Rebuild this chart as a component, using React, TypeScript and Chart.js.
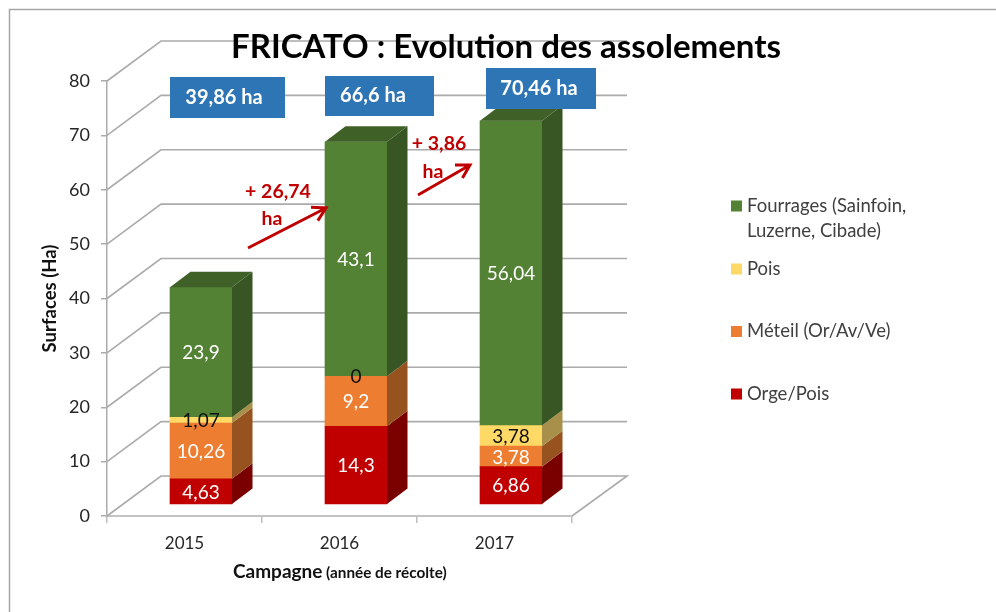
import React, { useEffect, useRef } from "react";
import { Chart, registerables } from "chart.js";

Chart.register(...registerables);

const years = [2015, 2016, 2017];
const orgePois = [4.63, 14.3, 6.86];
const meteil = [10.26, 9.2, 3.78];
const pois = [1.07, 0, 3.78];
const fourrages = [23.9, 43.1, 56.04];
const orgeLabel = "Orge/Pois";
const meteilLabel = "Méteil (Or/Av/Ve)";
const poisLabel = "Pois";
const fourragesLabel = ["Fourrages (Sainfoin,", "Luzerne, Cibade)"];
const totals = ["39,86 ha", "66,6 ha", "70,46 ha"];
const deltaA = ["+ 26,74", "ha"];
const deltaB = ["+ 3,86", "ha"];
const yTicks = [0, 10, 20, 30, 40, 50, 60, 70, 80];

const FONT = "Lato, Carlito, 'Noto Sans', sans-serif";
const GRID = "#ABABAB";
const DEPTH = { dx: 20.5, dy: -15.5 };
const WALL = { dx: 54, dy: -40 };
const BAR_SHIFT_PX = 12;
const X_SHIFT_PX = 16.5;
const UNIT_PX = 5.4375;
const CAT_PX = 155;

const sideColors = ["#7A0000", "#96531F", "#A8904A", "#375623"];
const labelColors = ["#FFFFFF", "#FFFFFF", "#111111", "#FFFFFF"];

const fmt = (v: number) => String(v).replace(".", ",");

function poly(ctx: CanvasRenderingContext2D, pts: number[][], fill: string) {
  ctx.beginPath();
  pts.forEach((p, i) => (i ? ctx.lineTo(p[0], p[1]) : ctx.moveTo(p[0], p[1])));
  ctx.closePath();
  ctx.fillStyle = fill;
  ctx.fill();
}

function text(
  ctx: CanvasRenderingContext2D,
  s: string,
  x: number,
  y: number,
  font: string,
  color: string,
  align: CanvasTextAlign = "center"
) {
  ctx.font = font;
  ctx.fillStyle = color;
  ctx.textAlign = align;
  ctx.textBaseline = "middle";
  ctx.fillText(s, x, y);
}

function arrow(ctx: CanvasRenderingContext2D, x0: number, y0: number, x1: number, y1: number) {
  const a = Math.atan2(y1 - y0, x1 - x0);
  const h = 15;
  ctx.save();
  ctx.strokeStyle = "#C00000";
  ctx.lineWidth = 3;
  ctx.lineJoin = "miter";
  ctx.beginPath();
  ctx.moveTo(x0, y0);
  ctx.lineTo(x1, y1);
  ctx.moveTo(x1 - h * Math.cos(a - 0.52), y1 - h * Math.sin(a - 0.52));
  ctx.lineTo(x1, y1);
  ctx.lineTo(x1 - h * Math.cos(a + 0.52), y1 - h * Math.sin(a + 0.52));
  ctx.stroke();
  ctx.restore();
}

const wallPlugin = {
  id: "wall",
  beforeDatasetsDraw(chart: any) {
    const { ctx, chartArea: ca, scales } = chart;
    ctx.save();
    // outer frame
    ctx.strokeStyle = "#A6A6A6";
    ctx.lineWidth = 1.5;
    ctx.beginPath();
    ctx.moveTo(9.5, 612);
    ctx.lineTo(9.5, 9.5);
    ctx.lineTo(996, 9.5);
    ctx.stroke();
    // rear wall and side wall
    ctx.strokeStyle = GRID;
    ctx.lineWidth = 1.6;
    yTicks.forEach((v) => {
      const py = scales.y.getPixelForValue(v);
      ctx.beginPath();
      ctx.moveTo(ca.left, py);
      ctx.lineTo(ca.left + WALL.dx, py + WALL.dy);
      ctx.lineTo(ca.right + WALL.dx + 1, py + WALL.dy);
      if (v === 0) ctx.lineTo(ca.right, py);
      ctx.stroke();
    });
    ctx.restore();
  },
};

const blocksPlugin = {
  id: "blocks",
  afterDatasetsDraw(chart: any) {
    const { ctx } = chart;
    ctx.save();
    const { dx, dy } = DEPTH;
    chart.data.datasets.forEach((ds: any, i: number) => {
      chart.getDatasetMeta(i).data.forEach((el: any, j: number) => {
        if (ds.data[j] === 0) return;
        const r = el.x + el.width / 2;
        poly(ctx, [[r, el.y], [r + dx, el.y + dy], [r + dx, el.base + dy], [r, el.base]], sideColors[i]);
      });
    });
    const topMeta = chart.getDatasetMeta(chart.data.datasets.length - 1);
    topMeta.data.forEach((el: any) => {
      const l = el.x - el.width / 2;
      const r = el.x + el.width / 2;
      poly(ctx, [[l, el.y], [l + dx, el.y + dy], [r + dx, el.y + dy], [r, el.y]], "#3F6128");
    });
    // value labels
    chart.data.datasets.forEach((ds: any, i: number) => {
      chart.getDatasetMeta(i).data.forEach((el: any, j: number) => {
        text(ctx, fmt(ds.data[j]), el.x, (el.y + el.base) / 2 + 1, `19px ${FONT}`, labelColors[i]);
      });
    });
    ctx.restore();
  },
};

const overlayPlugin = {
  id: "overlay",
  afterDraw(chart: any) {
    const { ctx } = chart;
    ctx.save();
    // title
    text(ctx, "FRICATO : Evolution des assolements", 506, 47, `bold 33px ${FONT}`, "#000000");
    // x axis title
    ctx.font = `bold 19px ${FONT}`;
    const a = "Campagne ";
    const aw = ctx.measureText(a).width;
    const b = "(année de récolte)";
    const startX = 233;
    text(ctx, a, startX, 572, `bold 19px ${FONT}`, "#111111", "left");
    text(ctx, b, startX + aw - 1, 573, `bold 15.3px ${FONT}`, "#111111", "left");
    // totals
    const boxes = [
      [170, 77, 115, 41, 224],
      [325, 76, 109, 40, 373],
      [486, 68, 110, 41, 539],
    ];
    boxes.forEach((b2, i) => {
      ctx.fillStyle = "#2E75B6";
      ctx.fillRect(b2[0], b2[1], b2[2], b2[3]);
      text(ctx, totals[i], b2[4], b2[1] + b2[3] / 2, `bold 20px ${FONT}`, "#FFFFFF");
    });
    // evolution notes
    arrow(ctx, 248, 248, 326, 208);
    arrow(ctx, 418, 195, 470, 165);
    const red = `bold 19.5px ${FONT}`;
    text(ctx, deltaA[0], 278, 192, red, "#C00000");
    text(ctx, deltaA[1], 272, 219, red, "#C00000");
    text(ctx, deltaB[0], 439, 144, red, "#C00000");
    text(ctx, deltaB[1], 433, 172, red, "#C00000");
    // legend
    const rows: [string[], string, number][] = [
      [fourragesLabel, chart.data.datasets[3].backgroundColor, 206],
      [[poisLabel], chart.data.datasets[2].backgroundColor, 269],
      [[meteilLabel], chart.data.datasets[1].backgroundColor, 331.5],
      [[orgeLabel], chart.data.datasets[0].backgroundColor, 394],
    ];
    rows.forEach(([lines, color, y]) => {
      ctx.fillStyle = color;
      ctx.fillRect(731, y - 5.5, 11, 11);
      lines.forEach((l, k) => {
        text(ctx, l, 747, y + k * 25, `18.5px ${FONT}`, "#404040", "left");
      });
    });
    ctx.restore();
  },
};

export default function App() {
  const ref = useRef<HTMLCanvasElement>(null);
  useEffect(() => {
    if (!ref.current) return;
    const chart = new Chart(ref.current, {
      type: "bar",
      data: {
        labels: years as any,
        datasets: [
          { label: orgeLabel, data: orgePois, backgroundColor: "#C00000" },
          { label: meteilLabel, data: meteil, backgroundColor: "#ED7D31" },
          { label: poisLabel, data: pois, backgroundColor: "#FFD966" },
          { label: fourragesLabel.join(" "), data: fourrages, backgroundColor: "#548235" },
        ].map((d) => ({ ...d, xAxisID: "xBars", yAxisID: "yBars", barThickness: 62, stack: "s" })),
      },
      options: {
        responsive: false,
        animation: false,
        layout: { padding: { left: 39, top: 81, right: 424, bottom: 0 } },
        plugins: { legend: { display: false }, title: { display: false }, tooltip: { enabled: false } },
        scales: {
          x: {
            type: "category",
            axis: "x",
            position: "bottom",
            offset: true,
            afterFit: (s: any) => {
              s.height = 96;
            },
            grid: { display: true, offset: true, drawOnChartArea: false, color: "#BDBDBD", tickLength: 7, lineWidth: 1.5 },
            border: { display: true, color: "#C4C4C4", width: 2 },
            ticks: { color: "#262626", font: { family: FONT, size: 17 }, padding: 10, maxRotation: 0 },
          },
          y: {
            type: "linear",
            axis: "y",
            position: "left",
            min: 0,
            max: 80,
            afterFit: (s: any) => {
              s.width = 68;
            },
            grid: { display: true, drawOnChartArea: false, color: "#ABABAB", tickLength: 6, lineWidth: 1.5 },
            border: { display: true, color: "#ABABAB", width: 1.5 },
            ticks: { color: "#262626", font: { family: FONT, size: 18 }, padding: 11, stepSize: 10 },
            title: {
              display: true,
              text: "Surfaces (Ha)",
              color: "#111111",
              font: { family: FONT, size: 18.5, weight: "bold" },
              padding: { top: 0, bottom: 0 },
            },
          },
          xBars: {
            type: "linear",
            axis: "x",
            display: false,
            stacked: true,
            offset: false,
            grid: { offset: false },
            min: years[0] - 0.5 - X_SHIFT_PX / CAT_PX,
            max: years[2] + 0.5 - X_SHIFT_PX / CAT_PX,
          },
          yBars: {
            type: "linear",
            axis: "y",
            display: false,
            stacked: true,
            min: -BAR_SHIFT_PX / UNIT_PX,
            max: 80 - BAR_SHIFT_PX / UNIT_PX,
          },
        },
      } as any,
      plugins: [wallPlugin, blocksPlugin, overlayPlugin],
    });
    return () => chart.destroy();
  }, []);
  return (
    <canvas
      ref={ref}
      width={996}
      height={612}
      style={{ position: "absolute", left: 0, top: 0, width: 996, height: 612, display: "block", background: "#FFFFFF" }}
    />
  );
}
